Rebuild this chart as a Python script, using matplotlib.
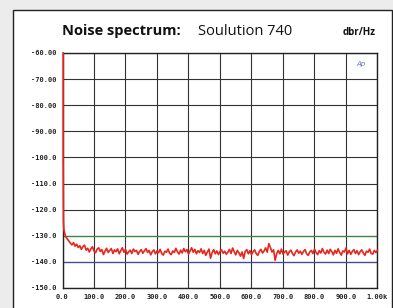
import numpy as np
import matplotlib.pyplot as plt

# Noise spectrum, dBr/Hz vs frequency (Hz)
freq_head = [2, 2, 2.5, 3, 4, 5, 7, 9, 11, 14, 17, 20]
level_head = [-60, -100, -117, -124, -127, -128, -129, -130, -130.5, -131, -131.5, -132]

freq_noise = np.arange(25, 1001, 5)
level_noise = [
    -132.8, -133.5, -132.6, -134.0, -133.2, -134.5, -133.8, -135.2, -134.1, -133.6, -135.5, -134.8, -136.2, -135.0,
    -134.2, -135.8, -136.5, -135.1, -134.6, -136.0, -135.3, -137.2, -135.9, -134.8, -136.4, -135.6, -134.9, -136.8,
    -135.4, -136.1, -135.0, -136.9, -135.7, -134.6, -136.3, -135.2, -137.0, -136.2, -135.5, -136.8, -135.1, -136.0,
    -135.6, -137.1, -136.0, -135.3, -136.7, -135.8, -134.9, -136.4, -135.6, -137.3, -136.1, -135.4, -136.9, -135.8,
    -136.5, -135.2, -136.8, -137.4, -135.9, -136.3, -135.1, -136.7, -137.2, -135.8, -136.4, -134.8, -136.2, -137.0,
    -135.5, -136.6, -134.9, -136.1, -135.3, -137.0, -135.8, -134.6, -136.3, -135.2, -136.9, -135.7, -136.4, -135.0,
    -136.8, -135.6, -137.5, -136.2, -135.1, -138.6, -136.4, -135.3, -136.9, -135.8, -137.2, -136.0, -135.4, -136.7,
    -135.9, -137.1, -136.3, -135.2, -136.8, -134.7, -136.1, -137.3, -135.6, -136.5, -137.8, -136.2, -138.7, -136.0,
    -135.3, -136.9, -135.7, -137.2, -136.1, -135.4, -136.8, -137.5, -136.0, -135.2, -136.6, -135.8, -134.6, -136.3,
    -133.0, -134.5, -136.2, -135.4, -139.4, -136.8, -135.6, -136.9, -135.1, -137.0, -136.3, -135.7, -137.4, -136.1,
    -135.5, -136.8, -137.6, -136.2, -135.4, -136.7, -135.9, -137.1, -136.0, -135.3, -136.9, -137.5, -136.2, -135.6,
    -136.8, -135.1, -136.4, -137.2, -135.7, -136.6, -134.9, -136.3, -137.0, -135.5, -136.8, -135.2, -136.1, -137.3,
    -135.6, -136.7, -135.0, -136.4, -137.4, -135.8, -136.2, -134.7, -136.9, -135.6, -137.1, -136.0, -135.3, -136.8,
    -135.7, -137.2, -136.1, -135.4, -136.6, -137.5, -135.9, -136.3, -135.1, -136.8, -137.0, -135.6, -136.4, -135.5,
]

x_ticks = [0, 100, 200, 300, 400, 500, 600, 700, 800, 900, 1000]
x_labels = ['0.0', '100.0', '200.0', '300.0', '400.0', '500.0', '600.0', '700.0', '800.0', '900.0', '1.00k']
y_ticks = [-60, -70, -80, -90, -100, -110, -120, -130, -140, -150]
y_labels = ['-60.00', '-70.00', '-80.00', '-90.00', '-100.0', '-110.0', '-120.0', '-130.0', '-140.0', '-150.0']

W, H = 393, 308
fig = plt.figure(figsize=(W / 100, H / 100), dpi=100)
fig.patch.set_facecolor('#ececec')

# pixel -> figure fraction helpers
def fx(px):
    return px / W

def fy(py):
    return 1 - py / H

# white panel with dark frame
panel = plt.Rectangle((fx(12.5), fy(312)), fx(392) - fx(12.5), fy(10) - fy(312),
                      transform=fig.transFigure, facecolor='white', edgecolor='#222222',
                      linewidth=1.0, zorder=-10)
fig.patches.append(panel)

ax = fig.add_axes([fx(62.5), fy(288), fx(377.5) - fx(62.5), fy(53) - fy(288)])
ax.set_facecolor('white')

freq = list(freq_head) + list(freq_noise)
level = list(level_head) + list(level_noise)
ax.plot(freq, level, color='#e8261c', linewidth=1.2, zorder=5, clip_on=False)

ax.set_xlim(0, 1000)
ax.set_ylim(-150, -60)
ax.set_xticks(x_ticks)
ax.set_xticklabels(x_labels)
ax.set_yticks(y_ticks)
ax.set_yticklabels(y_labels)
ax.tick_params(length=0, pad=4, labelsize=5, colors='#222222')
for lab in ax.get_xticklabels() + ax.get_yticklabels():
    lab.set_family('DejaVu Sans Mono')
    lab.set_fontweight('bold')

ax.grid(True, color='#333333', linewidth=0.8)
ax.axhline(-130, color='#3a8a3a', linewidth=0.9, zorder=2)
ax.axhline(-140, color='#4a4a9a', linewidth=0.9, zorder=2)
for s in ax.spines.values():
    s.set_color('#222222')
    s.set_linewidth(1.0)

fig.text(fx(62), fy(35), 'Noise spectrum:', fontsize=10.5, fontweight='bold',
         family='Open Sans', ha='left', va='baseline', color='#111111')
fig.text(fx(292), fy(35), 'Soulution 740', fontsize=10.5, family='Open Sans',
         ha='right', va='baseline', color='#111111')
fig.text(fx(376), fy(35), 'dbr/Hz', fontsize=7, fontweight='bold', family='Open Sans',
         ha='right', va='baseline', color='#111111')
fig.text(fx(361), fy(64), 'Ap', fontsize=5, style='italic', color='#6a78c8',
         ha='center', va='center')

fig.savefig('out.png', dpi=100, facecolor=fig.get_facecolor())
